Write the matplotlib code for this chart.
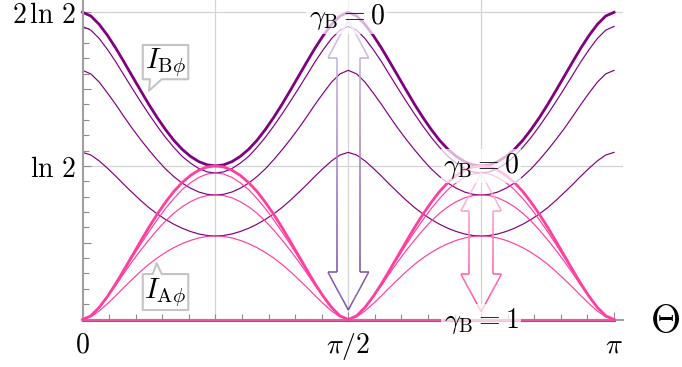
import numpy as np
import matplotlib
matplotlib.use("Agg")
import matplotlib.pyplot as plt
from matplotlib.collections import LineCollection
from matplotlib.colors import LinearSegmentedColormap
from matplotlib.patches import Polygon
from matplotlib.ticker import FixedLocator, MultipleLocator

plt.rcParams["mathtext.fontset"] = "cm"

# values in units of ln 2, sampled every pi/64 from 0 to pi
theta = np.linspace(0, np.pi, 65)

# I_B.phi for gamma_B = 0, 0.25, 0.5, 0.75, 1
ib_g0 = [
    2.000, 1.976, 1.922, 1.850, 1.767, 1.676, 1.583, 1.490, 1.399, 1.314, 1.236, 1.166, 1.108, 1.062, 1.028, 1.007, 1.000,
    1.007, 1.028, 1.062, 1.108, 1.166, 1.236, 1.314, 1.399, 1.490, 1.583, 1.676, 1.767, 1.850, 1.922, 1.976, 2.000,
    1.976, 1.922, 1.850, 1.767, 1.676, 1.583, 1.490, 1.399, 1.314, 1.236, 1.166, 1.108, 1.062, 1.028, 1.007, 1.000,
    1.007, 1.028, 1.062, 1.108, 1.166, 1.236, 1.314, 1.399, 1.490, 1.583, 1.676, 1.767, 1.850, 1.922, 1.976, 2.000,
]
ib_g1 = [
    1.908, 1.884, 1.830, 1.758, 1.678, 1.590, 1.503, 1.418, 1.336, 1.258, 1.185, 1.120, 1.062, 1.018, 0.983, 0.961, 0.954,
    0.961, 0.983, 1.018, 1.062, 1.120, 1.185, 1.258, 1.336, 1.418, 1.503, 1.590, 1.678, 1.758, 1.830, 1.884, 1.908,
    1.884, 1.830, 1.758, 1.678, 1.590, 1.503, 1.418, 1.336, 1.258, 1.185, 1.120, 1.062, 1.018, 0.983, 0.961, 0.954,
    0.961, 0.983, 1.018, 1.062, 1.120, 1.185, 1.258, 1.336, 1.418, 1.503, 1.590, 1.678, 1.758, 1.830, 1.884, 1.908,
]
ib_g2 = [
    1.622, 1.599, 1.546, 1.475, 1.400, 1.320, 1.243, 1.171, 1.103, 1.039, 0.980, 0.930, 0.888, 0.855, 0.830, 0.815, 0.811,
    0.815, 0.830, 0.855, 0.888, 0.930, 0.980, 1.039, 1.103, 1.171, 1.243, 1.320, 1.400, 1.475, 1.546, 1.599, 1.622,
    1.599, 1.546, 1.475, 1.400, 1.320, 1.243, 1.171, 1.103, 1.039, 0.980, 0.930, 0.888, 0.855, 0.830, 0.815, 0.811,
    0.815, 0.830, 0.855, 0.888, 0.930, 0.980, 1.039, 1.103, 1.171, 1.243, 1.320, 1.400, 1.475, 1.546, 1.599, 1.622,
]
ib_g3 = [
    1.088, 1.071, 1.033, 0.985, 0.933, 0.878, 0.826, 0.775, 0.728, 0.687, 0.651, 0.620, 0.594, 0.573, 0.557, 0.547, 0.544,
    0.547, 0.557, 0.573, 0.594, 0.620, 0.651, 0.687, 0.728, 0.775, 0.826, 0.878, 0.933, 0.985, 1.033, 1.071, 1.088,
    1.071, 1.033, 0.985, 0.933, 0.878, 0.826, 0.775, 0.728, 0.687, 0.651, 0.620, 0.594, 0.573, 0.557, 0.547, 0.544,
    0.547, 0.557, 0.573, 0.594, 0.620, 0.651, 0.687, 0.728, 0.775, 0.826, 0.878, 0.933, 0.985, 1.033, 1.071, 1.088,
]
ib_g4 = [0.0] * 65

# I_A.phi for the same gamma_B values
ia_g0 = [
    0.000, 0.024, 0.078, 0.150, 0.233, 0.324, 0.417, 0.510, 0.601, 0.686, 0.764, 0.834, 0.892, 0.938, 0.972, 0.993, 1.000,
    0.993, 0.972, 0.938, 0.892, 0.834, 0.764, 0.686, 0.601, 0.510, 0.417, 0.324, 0.233, 0.150, 0.078, 0.024, 0.000,
    0.024, 0.078, 0.150, 0.233, 0.324, 0.417, 0.510, 0.601, 0.686, 0.764, 0.834, 0.892, 0.938, 0.972, 0.993, 1.000,
    0.993, 0.972, 0.938, 0.892, 0.834, 0.764, 0.686, 0.601, 0.510, 0.417, 0.324, 0.233, 0.150, 0.078, 0.024, 0.000,
]
ia_g1 = [
    0.000, 0.024, 0.078, 0.150, 0.230, 0.318, 0.405, 0.490, 0.572, 0.650, 0.723, 0.788, 0.846, 0.890, 0.925, 0.947, 0.954,
    0.947, 0.925, 0.890, 0.846, 0.788, 0.723, 0.650, 0.572, 0.490, 0.405, 0.318, 0.230, 0.150, 0.078, 0.024, 0.000,
    0.024, 0.078, 0.150, 0.230, 0.318, 0.405, 0.490, 0.572, 0.650, 0.723, 0.788, 0.846, 0.890, 0.925, 0.947, 0.954,
    0.947, 0.925, 0.890, 0.846, 0.788, 0.723, 0.650, 0.572, 0.490, 0.405, 0.318, 0.230, 0.150, 0.078, 0.024, 0.000,
]
ia_g2 = [
    0.000, 0.023, 0.076, 0.147, 0.222, 0.302, 0.379, 0.451, 0.519, 0.583, 0.642, 0.692, 0.734, 0.767, 0.792, 0.807, 0.811,
    0.807, 0.792, 0.767, 0.734, 0.692, 0.642, 0.583, 0.519, 0.451, 0.379, 0.302, 0.222, 0.147, 0.076, 0.023, 0.000,
    0.023, 0.076, 0.147, 0.222, 0.302, 0.379, 0.451, 0.519, 0.583, 0.642, 0.692, 0.734, 0.767, 0.792, 0.807, 0.811,
    0.807, 0.792, 0.767, 0.734, 0.692, 0.642, 0.583, 0.519, 0.451, 0.379, 0.302, 0.222, 0.147, 0.076, 0.023, 0.000,
]
ia_g3 = [
    0.000, 0.017, 0.055, 0.103, 0.155, 0.210, 0.262, 0.313, 0.360, 0.401, 0.437, 0.468, 0.494, 0.515, 0.531, 0.541, 0.544,
    0.541, 0.531, 0.515, 0.494, 0.468, 0.437, 0.401, 0.360, 0.313, 0.262, 0.210, 0.155, 0.103, 0.055, 0.017, 0.000,
    0.017, 0.055, 0.103, 0.155, 0.210, 0.262, 0.313, 0.360, 0.401, 0.437, 0.468, 0.494, 0.515, 0.531, 0.541, 0.544,
    0.541, 0.531, 0.515, 0.494, 0.468, 0.437, 0.401, 0.360, 0.313, 0.262, 0.210, 0.155, 0.103, 0.055, 0.017, 0.000,
]
ia_g4 = [0.0] * 65

# gamma_B arrows: x position, top tip, bottom tip
arrow_x = [np.pi / 2, 3 * np.pi / 4]
arrow_top = [1.95, 0.952]
arrow_bottom = [0.062, 0.051]

xtick_pos = [0, np.pi / 2, np.pi]
xtick_labels = [r"$0$", r"$\pi/2$", r"$\pi$"]
ytick_pos = [0.5, 1, 1.5, 2]
ytick_labels = ["", r"$\ln\,2$", "", r"$2\,\ln\,2$"]

PURPLE = "#800080"
PINK = "#ff3fa0"

fig = plt.figure(figsize=(6.82, 3.67), dpi=100)
ax = fig.add_axes([0.121, 0.1294, 0.7925, 0.8706])
ax.set_xlim(0, 3.1945)
ax.set_ylim(0, 2.08)

# grid
for gx in [np.pi / 4, np.pi / 2, 3 * np.pi / 4]:
    ax.axvline(gx, color="#d4d4d4", lw=0.9, zorder=0)
for gy in [1, 2]:
    ax.axhline(gy, color="#d4d4d4", lw=0.9, zorder=0)

# curves
for ys in [ib_g1, ib_g2, ib_g3]:
    ax.plot(theta, ys, color=PURPLE, lw=0.85, clip_on=False, zorder=2)
ax.plot(theta, ib_g0, color=PURPLE, lw=2.0, clip_on=False, zorder=2)
ax.plot(theta, ib_g4, color=PURPLE, lw=2.2, clip_on=False, zorder=2)
for ys in [ia_g1, ia_g2, ia_g3]:
    ax.plot(theta, ys, color=PINK, lw=0.85, clip_on=False, zorder=3)
ax.plot(theta, ia_g0, color=PINK, lw=2.0, clip_on=False, zorder=3)
ax.plot(theta, ia_g4, color=PINK, lw=2.2, alpha=0.7, clip_on=False, zorder=3)


def double_arrow(x0, yt, yb, c_top, c_bot, hw=0.12, sw=0.069, hl=0.245):
    pts = [(x0, yt), (x0 + hw, yt - hl), (x0 + sw, yt - hl), (x0 + sw, yb + hl),
           (x0 + hw, yb + hl), (x0, yb), (x0 - hw, yb + hl), (x0 - sw, yb + hl),
           (x0 - sw, yt - hl), (x0 - hw, yt - hl), (x0, yt)]
    segs, vals = [], []
    for (xa, ya), (xb, yb2) in zip(pts[:-1], pts[1:]):
        xs = np.linspace(xa, xb, 40)
        ys = np.linspace(ya, yb2, 40)
        for i in range(39):
            segs.append([(xs[i], ys[i]), (xs[i + 1], ys[i + 1])])
            vals.append(((ys[i] + ys[i + 1]) / 2 - yb) / (yt - yb))
    cmap = LinearSegmentedColormap.from_list("g", [c_bot, c_top])
    lc = LineCollection(segs, colors=cmap(np.array(vals)), lw=1.1, zorder=4)
    ax.add_collection(lc)


double_arrow(arrow_x[0], arrow_top[0], arrow_bottom[0], "#d2bdee", "#6a3ca0")
double_arrow(arrow_x[1], arrow_top[1], arrow_bottom[1], "#ffc2de", "#ff3399")

# gamma labels
lab_box = dict(boxstyle="square,pad=0.08", fc="white", ec="none", alpha=0.7)
ax.text(arrow_x[0] - 0.01, 1.97, r"$\gamma_{\mathrm{B}} = 0$", fontsize=20, ha="center", va="center",
        bbox=lab_box, zorder=6)
ax.text(arrow_x[1], 1.0, r"$\gamma_{\mathrm{B}} = 0$", fontsize=20, ha="center", va="center",
        bbox=lab_box, zorder=6)
ax.text(arrow_x[1], -0.01, r"$\gamma_{\mathrm{B}} = 1$", fontsize=20, ha="center", va="center",
        bbox=lab_box, zorder=6)

# callouts
call_b = [(0.356, 1.787), (0.625, 1.787), (0.625, 1.564), (0.468, 1.564), (0.393, 1.490),
          (0.399, 1.564), (0.356, 1.564)]
call_a = [(0.356, 0.062), (0.625, 0.062), (0.625, 0.296), (0.468, 0.296), (0.4385, 0.366),
          (0.415, 0.296), (0.356, 0.296)]
for pts in [call_b, call_a]:
    ax.add_patch(Polygon(pts, closed=True, fc="white", ec="#c4c4c4", lw=1.5, zorder=7,
                         clip_on=False, joinstyle="round"))
ax.text(0.49, 1.672, r"$I_{\mathrm{B}\phi}$", fontsize=21, ha="center", va="center", zorder=8)
ax.text(0.49, 0.176, r"$I_{\mathrm{A}\phi}$", fontsize=21, ha="center", va="center", zorder=8)

# axis name
ax.text(3.445, -0.016, r"$\Theta$", fontsize=28, ha="center", va="center", clip_on=False)

# axes styling
for s in ["top", "right"]:
    ax.spines[s].set_visible(False)
for s in ["left", "bottom"]:
    ax.spines[s].set_color("#a0a0a0")
    ax.spines[s].set_linewidth(1.5)

ax.xaxis.set_major_locator(FixedLocator(xtick_pos))
ax.set_xticklabels(xtick_labels)
ax.xaxis.set_minor_locator(MultipleLocator(np.pi / 20))
ax.yaxis.set_major_locator(FixedLocator(ytick_pos))
ax.set_yticklabels(ytick_labels)
ax.yaxis.set_minor_locator(MultipleLocator(0.1))

ax.tick_params(axis="both", which="both", direction="in", color="#8c8c8c", width=0.8)
ax.tick_params(axis="x", which="major", length=6, pad=8, labelsize=20)
ax.tick_params(axis="x", which="minor", length=4)
ax.tick_params(axis="y", which="major", length=6, pad=5, labelsize=20)
ax.tick_params(axis="y", which="minor", length=4)

fig.savefig("out.png", dpi=100)
